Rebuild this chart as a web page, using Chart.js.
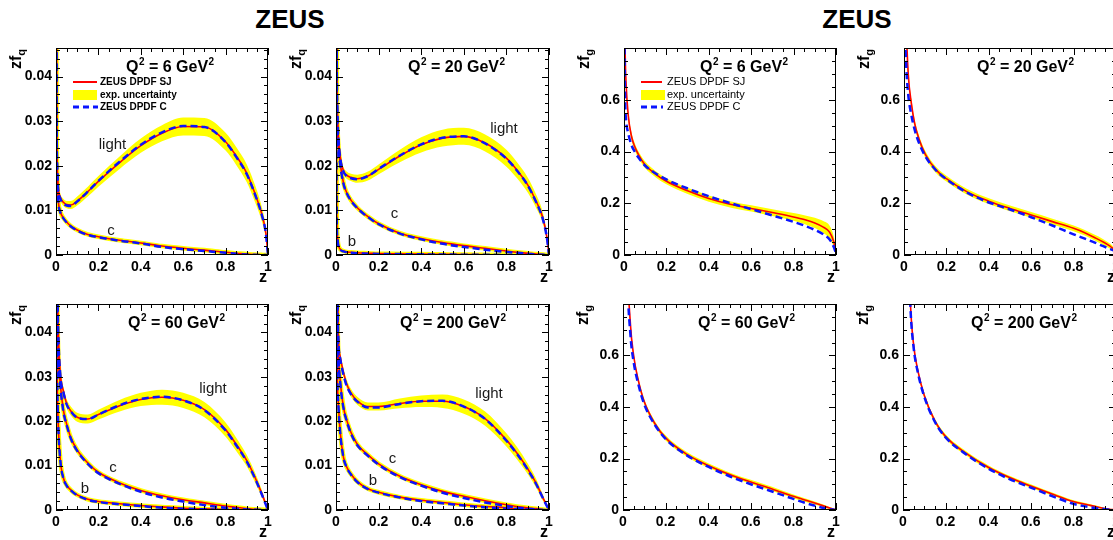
<!DOCTYPE html>
<html><head><meta charset="utf-8">
<script src="https://cdn.jsdelivr.net/npm/chart.js@4.4.1/dist/chart.umd.min.js"></script>
<style>
html,body{margin:0;padding:0;background:#fff;}
body{width:1113px;height:540px;overflow:hidden;position:relative;font-family:"Liberation Sans",Arial,Helvetica,sans-serif;}
canvas{position:absolute;}
.title{position:absolute;font-weight:bold;font-size:26px;line-height:26px;white-space:nowrap;transform:translateX(-50%);}
.ytitle{position:absolute;width:40px;height:20px;line-height:20px;text-align:center;font-weight:bold;font-size:16px;transform:rotate(-90deg);white-space:nowrap;}
.ytitle span{font-size:11px;position:relative;top:4px;}
.xtitle{position:absolute;font-weight:bold;font-size:16px;line-height:16px;white-space:nowrap;}
</style></head><body>
<div class="title" style="left:290px;top:6px;">ZEUS</div>
<div class="title" style="left:857px;top:6px;">ZEUS</div>
<script>
// ---------- data ----------
const zGrid = [0.001, 0.003, 0.006, 0.01, 0.02, 0.035, 0.05, 0.07, 0.1, 0.15, 0.2, 0.3, 0.4, 0.5, 0.6, 0.7, 0.8, 0.85, 0.9, 0.94, 0.97, 0.99, 1.0];

const xTickVals = [0, 0.2, 0.4, 0.6, 0.8, 1];
const xTickLabels = ['0', '0.2', '0.4', '0.6', '0.8', '1'];
const yTickValsQ = [0, 0.01, 0.02, 0.03, 0.04];
const yTickLabelsQ = ['0', '0.01', '0.02', '0.03', '0.04'];
const yTickValsG = [0, 0.2, 0.4, 0.6];
const yTickLabelsG = ['0', '0.2', '0.4', '0.6'];

// quarks, Q2 = 6
const q6Light   = [0.08, 0.032, 0.02, 0.0155, 0.013, 0.0118, 0.0113, 0.0112, 0.0121, 0.0142, 0.0165, 0.0207, 0.0245, 0.0273, 0.0288, 0.0287, 0.0254, 0.0222, 0.0183, 0.0136, 0.0093, 0.0049, 0];
const q6LightLo = [0.079, 0.031, 0.019, 0.0146, 0.0122, 0.011, 0.0105, 0.0103, 0.0111, 0.0131, 0.0153, 0.0193, 0.0229, 0.0255, 0.0268, 0.0267, 0.0234, 0.0202, 0.0163, 0.0117, 0.0077, 0.0038, 0];
const q6LightHi = [0.081, 0.033, 0.021, 0.0164, 0.0138, 0.0126, 0.0121, 0.0121, 0.0131, 0.0153, 0.0177, 0.0221, 0.0261, 0.0291, 0.0308, 0.0307, 0.0274, 0.0242, 0.0203, 0.0155, 0.0109, 0.006, 0];
const q6LightC  = [0.08, 0.031, 0.0195, 0.015, 0.0127, 0.0116, 0.0111, 0.011, 0.012, 0.0142, 0.0166, 0.0209, 0.0247, 0.0275, 0.0289, 0.0287, 0.0253, 0.022, 0.0181, 0.0134, 0.0091, 0.0048, 0];
const q6Charm   = [0.07, 0.028, 0.018, 0.0128, 0.0098, 0.0083, 0.0074, 0.0065, 0.0056, 0.0046, 0.0041, 0.0033, 0.0027, 0.002, 0.0015, 0.0011, 0.0006, 0.0004, 0.0002, 0.0001, 0.00003, 0, 0];
const q6CharmC  = [0.07, 0.027, 0.0175, 0.0125, 0.0096, 0.0082, 0.0073, 0.0064, 0.0055, 0.0045, 0.004, 0.0032, 0.0026, 0.0018, 0.0013, 0.0009, 0.0005, 0.0003, 0.0001, 0.00005, 0, 0, 0];

// quarks, Q2 = 20
const q20Light   = [0.12, 0.05, 0.034, 0.0278, 0.022, 0.0189, 0.0179, 0.0174, 0.0171, 0.0177, 0.0192, 0.0222, 0.0247, 0.0262, 0.0266, 0.0251, 0.0217, 0.019, 0.0157, 0.012, 0.0085, 0.004, 0];
const q20LightLo = [0.118, 0.0485, 0.0328, 0.0268, 0.0211, 0.0181, 0.0171, 0.0166, 0.0162, 0.0167, 0.0181, 0.0208, 0.023, 0.0243, 0.0247, 0.0232, 0.0198, 0.0172, 0.014, 0.0105, 0.0073, 0.0032, 0];
const q20LightHi = [0.122, 0.0515, 0.0352, 0.0288, 0.0229, 0.0197, 0.0187, 0.0182, 0.018, 0.0187, 0.0203, 0.0236, 0.0264, 0.0281, 0.0285, 0.027, 0.0236, 0.0208, 0.0174, 0.0135, 0.0097, 0.0048, 0];
const q20LightC  = [0.12, 0.05, 0.0335, 0.0275, 0.0217, 0.0187, 0.0177, 0.0172, 0.017, 0.0177, 0.0193, 0.0223, 0.0248, 0.0263, 0.0266, 0.025, 0.0216, 0.0189, 0.0156, 0.0118, 0.0082, 0.0039, 0];
const q20Charm   = [0.1, 0.045, 0.031, 0.0255, 0.0205, 0.0162, 0.014, 0.0123, 0.0106, 0.0086, 0.007, 0.0049, 0.0037, 0.0028, 0.0021, 0.0015, 0.0009, 0.0006, 0.0004, 0.0002, 0.0001, 0, 0];
const q20CharmC  = [0.1, 0.044, 0.0305, 0.0252, 0.0202, 0.016, 0.0139, 0.0122, 0.0105, 0.0085, 0.0069, 0.0048, 0.0035, 0.0025, 0.0018, 0.0012, 0.0007, 0.0005, 0.0003, 0.0001, 0.00005, 0, 0];
const q20Bottom  = [0.08, 0.012, 0.0045, 0.0025, 0.0013, 0.0009, 0.0007, 0.0006, 0.0005, 0.0004, 0.0003, 0.00025, 0.0002, 0.00015, 0.0001, 0.00007, 0.00004, 0.00003, 0.00002, 0.00001, 0, 0, 0];
const q20BottomC = [0.075, 0.011, 0.0042, 0.0024, 0.0012, 0.0008, 0.0006, 0.0005, 0.0004, 0.0003, 0.00025, 0.0002, 0.00015, 0.0001, 0.00007, 0.00004, 0.00002, 0.00001, 0, 0, 0, 0, 0];

// quarks, Q2 = 60
const q60Light   = [0.2, 0.09, 0.055, 0.042, 0.031, 0.0268, 0.024, 0.0223, 0.0209, 0.0205, 0.0215, 0.0235, 0.0249, 0.0254, 0.0247, 0.0226, 0.0181, 0.0148, 0.0111, 0.0072, 0.0038, 0.0013, 0];
const q60LightLo = [0.197, 0.088, 0.0535, 0.0408, 0.03, 0.0258, 0.023, 0.0213, 0.0199, 0.0195, 0.0204, 0.0222, 0.0234, 0.0237, 0.023, 0.0209, 0.0165, 0.0133, 0.0098, 0.0061, 0.003, 0.0009, 0];
const q60LightHi = [0.203, 0.092, 0.0565, 0.0432, 0.032, 0.0278, 0.025, 0.0233, 0.0219, 0.0215, 0.0226, 0.0248, 0.0264, 0.0271, 0.0264, 0.0243, 0.0197, 0.0163, 0.0124, 0.0083, 0.0046, 0.0017, 0];
const q60LightC  = [0.2, 0.088, 0.054, 0.0415, 0.0306, 0.0265, 0.0238, 0.0222, 0.0208, 0.0205, 0.0215, 0.0236, 0.025, 0.0255, 0.0247, 0.0225, 0.0179, 0.0146, 0.0109, 0.007, 0.0036, 0.0012, 0];
const q60Charm   = [0.18, 0.08, 0.049, 0.0365, 0.0285, 0.0225, 0.0194, 0.0163, 0.0135, 0.0106, 0.0085, 0.0061, 0.0044, 0.0032, 0.0023, 0.0016, 0.0009, 0.0006, 0.0003, 0.00015, 0.00005, 0, 0];
const q60CharmC  = [0.18, 0.079, 0.048, 0.036, 0.0282, 0.0222, 0.0192, 0.0161, 0.0133, 0.0104, 0.0083, 0.0059, 0.0041, 0.0028, 0.0019, 0.0011, 0.0005, 0.0003, 0.0001, 0.00005, 0, 0, 0];
const q60Bottom  = [0.15, 0.05, 0.028, 0.02, 0.0115, 0.0072, 0.0056, 0.0045, 0.0034, 0.0024, 0.0019, 0.0014, 0.001, 0.0007, 0.0004, 0.00025, 0.0001, 0.00006, 0.00003, 0.00001, 0, 0, 0];
const q60BottomC = [0.15, 0.049, 0.0275, 0.0197, 0.0113, 0.0071, 0.0055, 0.0044, 0.0033, 0.0023, 0.0018, 0.0013, 0.0009, 0.0005, 0.0003, 0.00015, 0.00005, 0.00003, 0.00001, 0, 0, 0, 0];

// quarks, Q2 = 200
const q200Light   = [0.25, 0.1, 0.06, 0.041, 0.0345, 0.031, 0.0284, 0.0264, 0.0246, 0.0233, 0.0233, 0.024, 0.0245, 0.0245, 0.0233, 0.0206, 0.0158, 0.0128, 0.0093, 0.006, 0.0029, 0.001, 0];
const q200LightLo = [0.247, 0.098, 0.0585, 0.0398, 0.0334, 0.03, 0.0274, 0.0255, 0.0237, 0.0224, 0.0224, 0.0229, 0.0232, 0.023, 0.0217, 0.019, 0.0143, 0.0114, 0.0081, 0.005, 0.0022, 0.0007, 0];
const q200LightHi = [0.253, 0.102, 0.0615, 0.0422, 0.0356, 0.032, 0.0294, 0.0273, 0.0255, 0.0242, 0.0242, 0.0251, 0.0258, 0.026, 0.0249, 0.0222, 0.0173, 0.0142, 0.0105, 0.007, 0.0036, 0.0013, 0];
const q200LightC  = [0.25, 0.1, 0.059, 0.0405, 0.034, 0.0305, 0.028, 0.0261, 0.0244, 0.0231, 0.0231, 0.0239, 0.0245, 0.0246, 0.0233, 0.0205, 0.0156, 0.0126, 0.0091, 0.0058, 0.0028, 0.0009, 0];
const q200Charm   = [0.2, 0.08, 0.048, 0.037, 0.029, 0.0232, 0.0203, 0.0175, 0.0148, 0.0124, 0.0104, 0.0076, 0.0057, 0.0042, 0.0031, 0.0021, 0.0012, 0.0008, 0.0005, 0.0003, 0.0001, 0, 0];
const q200CharmC  = [0.2, 0.079, 0.047, 0.0365, 0.0287, 0.023, 0.0201, 0.0173, 0.0146, 0.0122, 0.0102, 0.0074, 0.0055, 0.0039, 0.0027, 0.0017, 0.0009, 0.0005, 0.0003, 0.0001, 0, 0, 0];
const q200Bottom  = [0.15, 0.06, 0.0314, 0.025, 0.0175, 0.0119, 0.0097, 0.0081, 0.0064, 0.0048, 0.004, 0.0029, 0.0022, 0.0017, 0.0012, 0.0008, 0.0005, 0.0003, 0.0002, 0.0001, 0.00003, 0, 0];
const q200BottomC = [0.15, 0.059, 0.031, 0.0247, 0.0173, 0.0118, 0.0096, 0.008, 0.0063, 0.0047, 0.0039, 0.0028, 0.002, 0.0015, 0.001, 0.0006, 0.0003, 0.0002, 0.0001, 0.00005, 0, 0, 0];

// gluon, Q2 = 6
const g6   = [1.3, 0.95, 0.76, 0.66, 0.54, 0.46, 0.42, 0.385, 0.348, 0.312, 0.285, 0.248, 0.218, 0.196, 0.18, 0.164, 0.147, 0.137, 0.124, 0.108, 0.088, 0.05, 0.01];
const g6Lo = [1.27, 0.925, 0.74, 0.642, 0.524, 0.445, 0.406, 0.372, 0.335, 0.3, 0.273, 0.236, 0.206, 0.184, 0.168, 0.151, 0.132, 0.12, 0.104, 0.085, 0.063, 0.03, 0];
const g6Hi = [1.33, 0.975, 0.78, 0.678, 0.556, 0.475, 0.434, 0.398, 0.361, 0.324, 0.297, 0.26, 0.23, 0.208, 0.192, 0.177, 0.162, 0.154, 0.144, 0.131, 0.113, 0.07, 0.02];
const g6C  = [1.1, 0.75, 0.58, 0.52, 0.47, 0.425, 0.4, 0.375, 0.345, 0.315, 0.292, 0.257, 0.227, 0.201, 0.177, 0.153, 0.128, 0.114, 0.097, 0.08, 0.06, 0.03, 0.005];

// gluon, Q2 = 20
const g20   = [2.0, 1.4, 1.05, 0.9, 0.7, 0.585, 0.51, 0.45, 0.39, 0.33, 0.295, 0.243, 0.208, 0.18, 0.155, 0.129, 0.103, 0.087, 0.067, 0.05, 0.035, 0.022, 0.015];
const g20Lo = [1.95, 1.36, 1.02, 0.875, 0.68, 0.568, 0.495, 0.436, 0.377, 0.318, 0.284, 0.232, 0.197, 0.169, 0.144, 0.118, 0.092, 0.076, 0.056, 0.039, 0.025, 0.013, 0.007];
const g20Hi = [2.05, 1.44, 1.08, 0.925, 0.72, 0.602, 0.525, 0.464, 0.403, 0.342, 0.306, 0.254, 0.219, 0.191, 0.166, 0.14, 0.114, 0.098, 0.078, 0.061, 0.045, 0.031, 0.023];
const g20C  = [1.6, 1.1, 0.85, 0.74, 0.62, 0.54, 0.485, 0.435, 0.382, 0.328, 0.293, 0.24, 0.203, 0.176, 0.146, 0.114, 0.08, 0.064, 0.048, 0.034, 0.024, 0.017, 0.013];

// gluon, Q2 = 60
const g60   = [5.0, 3.0, 2.1, 1.6, 1.0, 0.72, 0.6, 0.51, 0.42, 0.335, 0.28, 0.216, 0.173, 0.138, 0.109, 0.082, 0.053, 0.04, 0.027, 0.016, 0.008, 0.003, 0];
const g60Lo = [4.9, 2.94, 2.06, 1.57, 0.98, 0.705, 0.587, 0.498, 0.409, 0.325, 0.27, 0.207, 0.164, 0.13, 0.101, 0.074, 0.046, 0.033, 0.021, 0.011, 0.004, 0, 0];
const g60Hi = [5.1, 3.06, 2.14, 1.63, 1.02, 0.735, 0.613, 0.522, 0.431, 0.345, 0.29, 0.225, 0.182, 0.146, 0.117, 0.09, 0.06, 0.047, 0.033, 0.021, 0.012, 0.006, 0.002];
const g60C  = [4.5, 2.7, 1.9, 1.45, 0.93, 0.68, 0.575, 0.495, 0.41, 0.33, 0.276, 0.212, 0.168, 0.131, 0.1, 0.072, 0.043, 0.029, 0.017, 0.008, 0.003, 0.001, 0];

// gluon, Q2 = 200
const g200   = [6.0, 3.5, 2.5, 1.9, 1.2, 0.8, 0.64, 0.54, 0.445, 0.345, 0.285, 0.218, 0.166, 0.126, 0.093, 0.062, 0.033, 0.023, 0.014, 0.007, 0.003, 0.001, 0];
const g200Lo = [5.9, 3.44, 2.46, 1.87, 1.18, 0.785, 0.628, 0.529, 0.435, 0.336, 0.276, 0.21, 0.158, 0.119, 0.086, 0.056, 0.028, 0.018, 0.01, 0.004, 0.001, 0, 0];
const g200Hi = [6.1, 3.56, 2.54, 1.93, 1.22, 0.815, 0.652, 0.551, 0.455, 0.354, 0.294, 0.226, 0.174, 0.133, 0.1, 0.068, 0.038, 0.028, 0.018, 0.01, 0.005, 0.002, 0.0005];
const g200C  = [5.6, 3.3, 2.4, 1.85, 1.17, 0.785, 0.63, 0.533, 0.44, 0.342, 0.282, 0.214, 0.161, 0.12, 0.087, 0.054, 0.024, 0.015, 0.008, 0.004, 0.001, 0, 0];

// ---------- layout / styling ----------
const FONT = '"Liberation Sans", Arial, Helvetica, sans-serif';
const RED = '#ff0000', BLUE = '#0a14ff', YEL = '#ffff00';

const panels = [
  {l:56,  t:48,  r:268,  b:255, kind:'q', q2:'6',   q2dx:70, legend:'bold',
   light:[q6Light,q6LightLo,q6LightHi,q6LightC], halos:[[q6Charm,q6CharmC]],
   labels:[['light',56.5,101],['c',55,187]]},
  {l:336, t:48,  r:549,  b:255, kind:'q', q2:'20',  q2dx:72,
   light:[q20Light,q20LightLo,q20LightHi,q20LightC], halos:[[q20Charm,q20CharmC],[q20Bottom,q20BottomC]],
   labels:[['light',168,84.5],['c',58.5,170],['b',16,198]]},
  {l:624, t:48,  r:836,  b:255, kind:'g', q2:'6',   q2dx:76, legend:'normal',
   light:[g6,g6Lo,g6Hi,g6C], halos:[], labels:[]},
  {l:904, t:48,  r:1116, b:255, kind:'g', q2:'20',  q2dx:73,
   light:[g20,g20Lo,g20Hi,g20C], halos:[], labels:[]},
  {l:56,  t:304, r:268,  b:510, kind:'q', q2:'60',  q2dx:72,
   light:[q60Light,q60LightLo,q60LightHi,q60LightC], halos:[[q60Charm,q60CharmC],[q60Bottom,q60BottomC]],
   labels:[['light',157,89],['c',57,168],['b',29,188.5]]},
  {l:336, t:304, r:549,  b:510, kind:'q', q2:'200', q2dx:64,
   light:[q200Light,q200LightLo,q200LightHi,q200LightC], halos:[[q200Charm,q200CharmC],[q200Bottom,q200BottomC]],
   labels:[['light',153,93.5],['c',56.5,159],['b',37,181]]},
  {l:623, t:304, r:836,  b:510, kind:'g', q2:'60',  q2dx:75,
   light:[g60,g60Lo,g60Hi,g60C], halos:[], labels:[]},
  {l:903, t:304, r:1116, b:510, kind:'g', q2:'200', q2dx:68,
   light:[g200,g200Lo,g200Hi,g200C], halos:[], labels:[]},
];

function pts(ys) { return zGrid.map((z, i) => ({x: z, y: ys[i]})); }
function line(ys, color, width, dash, order) {
  return {data: pts(ys), borderColor: color, borderWidth: width, borderDash: dash || [],
          pointRadius: 0, fill: false, cubicInterpolationMode: 'monotone', order: order};
}

function drawQ2(ctx, x, y, val) {
  ctx.fillStyle = '#000';
  ctx.textBaseline = 'alphabetic'; ctx.textAlign = 'left';
  const big = 'bold 16px ' + FONT, small = 'bold 10px ' + FONT;
  ctx.font = big; ctx.fillText('Q', x, y); x += ctx.measureText('Q').width + 0.5;
  ctx.font = small; ctx.fillText('2', x, y - 7); x += ctx.measureText('2').width;
  const mid = ' = ' + val + ' GeV';
  ctx.font = big; ctx.fillText(mid, x, y); x += ctx.measureText(mid).width + 0.5;
  ctx.font = small; ctx.fillText('2', x, y - 7);
}

const rootDeco = {
  id: 'rootDeco',
  afterDatasetsDraw(chart) {
    const o = chart.options.plugins.rootDeco;
    const ctx = chart.ctx, a = chart.chartArea, xs = chart.scales.x, ys = chart.scales.y;
    ctx.save();
    ctx.setLineDash([]);
    ctx.strokeStyle = '#000'; ctx.lineWidth = 1;
    ctx.beginPath();
    for (let k = 0; k * 0.05 <= 1 + 1e-9; k++) {
      const L = (k % 4 === 0) ? 7 : 4;
      const px = Math.round(xs.getPixelForValue(k * 0.05)) + 0.5;
      ctx.moveTo(px, a.bottom); ctx.lineTo(px, a.bottom - L);
      ctx.moveTo(px, a.top); ctx.lineTo(px, a.top + L);
    }
    for (let k = 0; k * o.yMinor <= ys.max + 1e-9; k++) {
      const L = (k % o.yPer === 0) ? 7 : 4;
      const py = Math.round(ys.getPixelForValue(k * o.yMinor)) + 0.5;
      ctx.moveTo(a.left, py); ctx.lineTo(a.left + L, py);
      ctx.moveTo(a.right, py); ctx.lineTo(a.right - L, py);
    }
    ctx.stroke();
    ctx.strokeRect(a.left + 0.5, a.top + 0.5, a.right - a.left - 1, a.bottom - a.top - 1);

    drawQ2(ctx, a.left + o.q2dx, a.top + 24, o.q2);

    ctx.fillStyle = '#1a1a1a';
    ctx.font = '15px ' + FONT; ctx.textAlign = 'center'; ctx.textBaseline = 'alphabetic';
    o.labels.forEach(([t, dx, dy]) => ctx.fillText(t, a.left + dx, a.top + dy));

    if (o.legend) {
      const L = a.left, T = a.top;
      const x0 = L + 17, x1 = (o.legend === 'bold') ? L + 41 : L + 38;
      ctx.strokeStyle = RED; ctx.lineWidth = 2;
      ctx.beginPath(); ctx.moveTo(x0, T + 34); ctx.lineTo(x1, T + 34); ctx.stroke();
      ctx.fillStyle = YEL; ctx.fillRect(L + 17, T + 42, 24, 10);
      ctx.strokeStyle = BLUE; ctx.lineWidth = 3; ctx.setLineDash([6, 4]);
      ctx.beginPath(); ctx.moveTo(x0, T + 59); ctx.lineTo(x1 + 1, T + 59); ctx.stroke();
      ctx.setLineDash([]);
      ctx.fillStyle = '#000';
      ctx.textAlign = 'left'; ctx.textBaseline = 'middle';
      const tx = (o.legend === 'bold') ? L + 44 : L + 43;
      ctx.font = (o.legend === 'bold' ? 'bold 10px ' : '11px ') + FONT;
      ctx.fillText('ZEUS DPDF SJ', tx, T + 34);
      ctx.fillText('exp. uncertainty', tx, T + 47);
      ctx.fillText('ZEUS DPDF C', tx, T + 59);
    }
    ctx.restore();
  }
};

panels.forEach((p, idx) => {
  const w = p.r - p.l, h = p.b - p.t;
  const cv = document.createElement('canvas');
  cv.width = w + 70; cv.height = h + 78;
  cv.style.left = (p.l - 56) + 'px'; cv.style.top = (p.t - 48) + 'px';
  document.body.appendChild(cv);

  const ds = [];
  const [sj, lo, hi, c] = p.light;
  const loIdx = ds.length;
  ds.push({...line(lo, 'rgba(0,0,0,0)', 1, [], 9)});
  ds.push({...line(hi, 'rgba(0,0,0,0)', 1, [], 9), fill: {target: loIdx}, backgroundColor: YEL});
  p.halos.forEach(([s]) => ds.push(line(s, YEL, 4.5, [], 8)));
  p.halos.forEach(([s, cc]) => { ds.push(line(s, RED, 1.6, [], 3)); ds.push(line(cc, BLUE, 2.5, [7, 4], 1)); });
  ds.push(line(sj, RED, 1.6, [], 2));
  ds.push(line(c, BLUE, 2.5, [7, 4], 0));

  const isQ = p.kind === 'q';
  const yVals = isQ ? yTickValsQ : yTickValsG;
  const yLabs = isQ ? yTickLabelsQ : yTickLabelsG;
  const tickFont = {family: FONT, size: 14, weight: 'bold'};

  new Chart(cv, {
    type: 'line',
    data: {datasets: ds},
    options: {
      responsive: false, animation: false, devicePixelRatio: 1, events: [],
      layout: {padding: {left: 0, top: 48, right: 14, bottom: 0}},
      plugins: {
        legend: {display: false}, tooltip: {enabled: false},
        rootDeco: {yMinor: isQ ? 0.002 : 0.05, yPer: isQ ? 5 : 4, q2: p.q2, q2dx: p.q2dx,
                   labels: p.labels, legend: p.legend || null}
      },
      scales: {
        x: {type: 'linear', min: 0, max: 1,
            grid: {display: false, drawTicks: false}, border: {display: false},
            ticks: {autoSkip: false, maxRotation: 0, padding: 4, font: tickFont, color: '#000',
                    callback: (v, i) => xTickLabels[i]},
            afterBuildTicks: s => { s.ticks = xTickVals.map(v => ({value: v})); },
            afterFit: s => { s.height = 30; }},
        y: {type: 'linear', min: 0, max: isQ ? 0.0464 : 0.8,
            grid: {display: false, drawTicks: false}, border: {display: false},
            ticks: {autoSkip: false, padding: 4, font: tickFont, color: '#000',
                    callback: (v, i) => yLabs[i]},
            afterBuildTicks: s => { s.ticks = yVals.map(v => ({value: v})); },
            afterFit: s => { s.width = 56; }}
      }
    },
    plugins: [rootDeco]
  });

  // axis titles (HTML text)
  const yt = document.createElement('div');
  yt.className = 'ytitle';
  yt.innerHTML = 'zf<span>' + (isQ ? 'q' : 'g') + '</span>';
  const cx = p.l - 40, cy = p.t + 11;
  yt.style.left = (cx - 20) + 'px'; yt.style.top = (cy - 10) + 'px';
  document.body.appendChild(yt);

  const xt = document.createElement('div');
  xt.className = 'xtitle';
  xt.textContent = 'z';
  xt.style.left = (p.r - 9) + 'px'; xt.style.top = (p.b + 14) + 'px';
  document.body.appendChild(xt);
});
</script>
</body></html>
